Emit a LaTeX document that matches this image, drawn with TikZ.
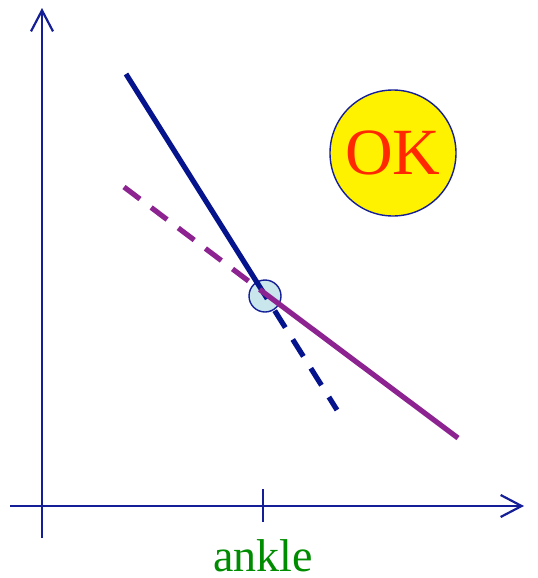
\documentclass[tikz,border=0pt]{standalone}
\usepackage{fontspec}
\setmainfont{Liberation Serif}
\usetikzlibrary{arrows.meta}

\definecolor{axisblue}{RGB}{20,30,150}
\definecolor{lineblue}{RGB}{5,20,140}
\definecolor{linepurple}{RGB}{140,35,145}
\definecolor{kneefill}{RGB}{200,230,235}
\definecolor{okred}{RGB}{255,40,0}
\definecolor{labelgreen}{RGB}{0,140,0}

\begin{document}
\begin{tikzpicture}[
		x=0.5pt, y=-0.5pt,
		axis/.style={
			draw=axisblue, line width=1.1pt
		},
		axisarrow/.style={
			axis, -{Straight Barb[length=10.5pt, width=11pt, line width=1.1pt]}
		},
		segment/.style={
			line width=2.6pt
		},
		dashseg/.style={
			segment, dash pattern=on 10pt off 7pt
		},
		knee/.style={
			draw=axisblue, fill=kneefill, circle, minimum size=16pt, inner sep=0pt, line width=0.7pt
		},
		okbadge/.style={
			draw=axisblue, fill=yellow, circle, minimum size=63pt, inner sep=0pt, line width=0.7pt,
			text=okred, font=\fontsize{33}{33}\selectfont
		}
		]
		\useasboundingbox (0,0) rectangle (537,578);
		
		% axes
		\coordinate (origin) at (42,506);
		\coordinate (ytop) at (42,8);
		\coordinate (ybottom) at (42,538);
		\coordinate (xleft) at (10,506);
		\coordinate (xright) at (524,506);
		\draw[axis] (ybottom) -- (origin);
		\draw[axisarrow] (origin) -- (ytop);
		\draw[axisarrow] (xleft) -- (xright);
		
		% tick and label
		\coordinate (tickup) at (263,489);
		\coordinate (tickdown) at (263,522);
		\draw[axis] (tickup) -- (tickdown);
		\node[text=labelgreen, font=\fontsize{23}{23}\selectfont, anchor=base] (ankle) at (263,571) {ankle};
		
		% knee point
		\node[knee] (kink) at (265,296) {};
		\coordinate (meet) at (263,292);
		
		% blue line: solid, then dashed
		\coordinate (bluestart) at (126,74);
		\coordinate (blueend) at (337,410);
		\draw[segment, lineblue] (bluestart) -- (meet);
		\draw[dashseg, lineblue, dash phase=6pt] (meet) -- (blueend);
		
		% purple line: dashed, then solid
		\coordinate (purplestart) at (124,187);
		\coordinate (purpleend) at (458,438);
		\draw[dashseg, linepurple] (purplestart) -- (meet);
		\draw[segment, linepurple] (meet) -- (purpleend);
		
		% badge
		\node[okbadge] (ok) at (393,153) {OK};
	\end{tikzpicture}
\end{document}
